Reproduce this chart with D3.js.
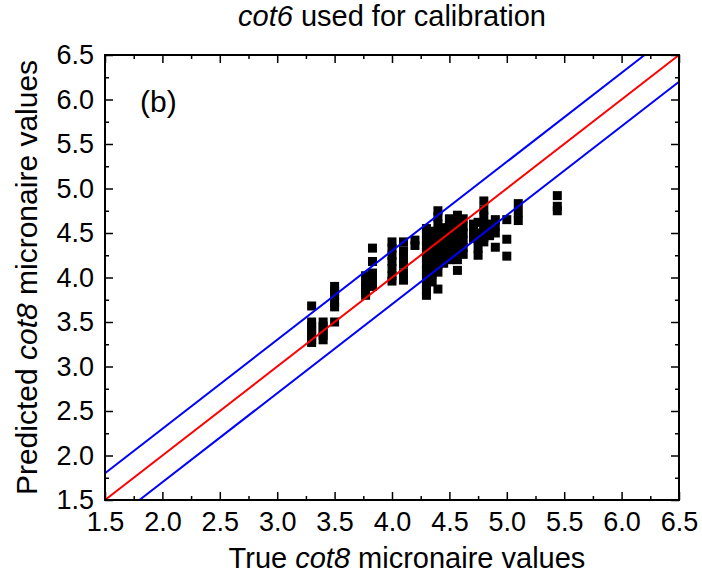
<!DOCTYPE html>
<html>
<head>
<meta charset="utf-8">
<script src="https://cdn.jsdelivr.net/npm/d3@7"></script>
<style>
  html, body { margin: 0; padding: 0; background: #fff; }
  svg { display: block; font-family: "Liberation Sans", Arial, sans-serif; }
</style>
</head>
<body>
<svg id="chart" width="702" height="579"></svg>
<script>
// True micronaire levels (x) and the predicted values measured at each level (y)
const trueLevels = [3.3, 3.4, 3.5, 3.77, 3.83, 4.0, 4.1, 4.2, 4.3, 4.35, 4.4, 4.45, 4.5, 4.57, 4.62, 4.71, 4.75, 4.8, 4.85, 4.9, 5.0, 5.1, 5.44];
const predictedAtLevel = [
  [3.68, 3.50, 3.45, 3.40, 3.35, 3.30, 3.27],
  [3.50, 3.45, 3.40, 3.35, 3.30],
  [3.90, 3.85, 3.80, 3.72, 3.67, 3.50],
  [4.02, 3.95, 3.90, 3.85, 3.80],
  [4.33, 4.18, 4.05, 3.97, 3.90],
  [4.40, 4.33, 4.25, 4.18, 4.10, 4.02, 3.96],
  [4.40, 4.30, 4.22, 4.15, 4.05, 3.97],
  [4.42, 4.36],
  [4.55, 4.48, 4.42, 4.35, 4.28, 4.22, 4.15, 4.08, 4.00, 3.92, 3.85, 3.80],
  [4.52, 4.44, 4.36, 4.28, 4.20, 4.12, 4.04, 3.95],
  [4.75, 4.68, 4.60, 4.52, 4.45, 4.38, 4.30, 4.22, 4.14, 4.06, 3.87],
  [4.56, 4.48, 4.40, 4.32, 4.25, 4.16],
  [4.66, 4.58, 4.50, 4.42, 4.35, 4.27, 4.20],
  [4.70, 4.62, 4.55, 4.46, 4.38, 4.29, 4.20, 4.08],
  [4.66, 4.57, 4.50, 4.42, 4.34, 4.26],
  [4.60, 4.52, 4.44],
  [4.62, 4.50, 4.42, 4.33, 4.25],
  [4.86, 4.76, 4.68, 4.60, 4.52, 4.45, 4.40],
  [4.60, 4.53, 4.47],
  [4.65, 4.58, 4.50, 4.34],
  [4.65, 4.43, 4.24],
  [4.83, 4.73, 4.64],
  [4.92, 4.80, 4.75]
];
const majorTicks = [1.5, 2.0, 2.5, 3.0, 3.5, 4.0, 4.5, 5.0, 5.5, 6.0, 6.5];
const minorTicks = [1.75, 2.25, 2.75, 3.25, 3.75, 4.25, 4.75, 5.25, 5.75, 6.25];
const axisDomain = [1.5, 6.5];
const bandOffset = 0.3;

const points = [];
trueLevels.forEach((t, i) => predictedAtLevel[i].forEach(p => points.push({ t, p })));

const svg = d3.select("#chart");
const m = { left: 105, top: 55, right: 23, bottom: 79 };
const W = 702 - m.left - m.right, H = 579 - m.top - m.bottom;
const x = d3.scaleLinear().domain(axisDomain).range([0, W]);
const y = d3.scaleLinear().domain(axisDomain).range([H, 0]);
const g = svg.append("g").attr("transform", `translate(${m.left},${m.top})`);

// markers
const s = 9;
g.append("g").selectAll("rect").data(points).join("rect")
  .attr("x", d => x(d.t) - s / 2).attr("y", d => y(d.p) - s / 2)
  .attr("width", s).attr("height", s).attr("fill", "#000");

// 1:1 line and ±0.3 bands
const lines = [
  { off: 0, color: "#ff0000" },
  { off: bandOffset, color: "#0000ff" },
  { off: -bandOffset, color: "#0000ff" }
];
lines.forEach(l => {
  const x0 = Math.max(axisDomain[0], axisDomain[0] - l.off);
  const x1 = Math.min(axisDomain[1], axisDomain[1] - l.off);
  g.append("line")
    .attr("x1", x(x0)).attr("y1", y(x0 + l.off))
    .attr("x2", x(x1)).attr("y2", y(x1 + l.off))
    .attr("stroke", l.color).attr("stroke-width", 2);
});

// axes: labelled bottom/left, mirrored top/right, ticks inward
function styleAxis(sel) {
  sel.select(".domain").remove();
  sel.selectAll("line").attr("stroke", "#000").attr("stroke-width", 1.5);
  sel.selectAll("text").attr("fill", "#000").style("font-size", "27px");
}
const fmt = d3.format(".1f");
g.append("g").attr("transform", `translate(0,${H})`)
  .call(d3.axisBottom(x).tickValues(majorTicks).tickFormat(fmt).tickSizeInner(-8).tickPadding(12))
  .call(styleAxis);
g.append("g").attr("transform", `translate(0,${H})`)
  .call(d3.axisBottom(x).tickValues(minorTicks).tickFormat("").tickSizeInner(-4)).call(styleAxis);
g.append("g")
  .call(d3.axisLeft(y).tickValues(majorTicks).tickFormat(fmt).tickSizeInner(-8).tickPadding(11))
  .call(styleAxis);
g.append("g").call(d3.axisLeft(y).tickValues(minorTicks).tickFormat("").tickSizeInner(-4)).call(styleAxis);
g.append("g").call(d3.axisTop(x).tickValues(majorTicks).tickFormat("").tickSizeInner(-8)).call(styleAxis);
g.append("g").call(d3.axisTop(x).tickValues(minorTicks).tickFormat("").tickSizeInner(-4)).call(styleAxis);
g.append("g").attr("transform", `translate(${W},0)`)
  .call(d3.axisRight(y).tickValues(majorTicks).tickFormat("").tickSizeInner(-8)).call(styleAxis);
g.append("g").attr("transform", `translate(${W},0)`)
  .call(d3.axisRight(y).tickValues(minorTicks).tickFormat("").tickSizeInner(-4)).call(styleAxis);

// frame
g.append("rect").attr("width", W).attr("height", H)
  .attr("fill", "none").attr("stroke", "#000").attr("stroke-width", 2);

// panel tag
g.append("text").attr("x", 35).attr("y", 57).style("font-size", "30px").text("(b)");

// title
const title = svg.append("text").attr("x", m.left + W / 2).attr("y", 26)
  .attr("text-anchor", "middle").style("font-size", "29px");
title.append("tspan").style("font-style", "italic").text("cot6");
title.append("tspan").text(" used for calibration");

// x axis title
const xt = svg.append("text").attr("x", 407).attr("y", 568)
  .attr("text-anchor", "middle").style("font-size", "29px");
xt.append("tspan").text("True ");
xt.append("tspan").style("font-style", "italic").text("cot8");
xt.append("tspan").text(" micronaire values");

// y axis title
const yt = svg.append("text")
  .attr("transform", `translate(37,${m.top + H / 2}) rotate(-90)`)
  .attr("text-anchor", "middle").style("font-size", "30px");
yt.append("tspan").text("Predicted ");
yt.append("tspan").style("font-style", "italic").text("cot8");
yt.append("tspan").text(" micronaire values");
</script>
</body>
</html>
